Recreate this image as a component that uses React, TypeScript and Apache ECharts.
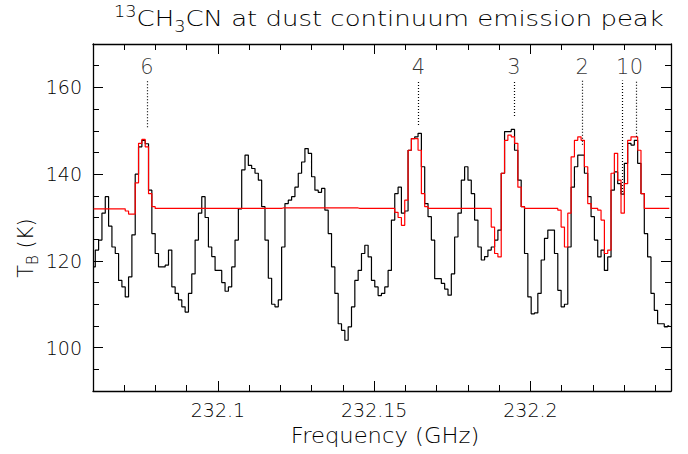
import React, { useEffect, useRef } from "react";
import * as echarts from "echarts";

// Spectrum channel grid (GHz)
const FREQ_START = 232.0602;
const CHANNEL_WIDTH = 0.001065;

// Observed brightness temperature (K), black histogram
const observedTb = [
  118.6, 122.5, 124.8, 131, 134.8, 128, 123.2, 121.7, 115.5, 114,
  111.7, 116.3, 126, 140, 146.3, 147.8, 147, 136.3, 126.3, 121.7,
  118.6, 118.6, 119, 122.5, 114, 112.5, 111, 109.4, 108.2, 112.5,
  117, 124.8, 131, 134.8, 130, 123.2, 121, 117.8, 117.8, 115,
  113, 114, 118.6, 124.8, 132, 141, 144.4, 142, 141.3, 140.2,
  138.6, 132.5, 124.8, 116, 110, 109.4, 111, 123.2, 133.2, 134,
  134.8, 137, 140.2, 142.8, 145.9, 144.8, 139.4, 136.3, 135.8, 136.7,
  131.7, 126.3, 118.6, 112.5, 105.5, 104, 101.7, 104.8, 109.4, 115.5,
  117.8, 121.7, 123.6, 120.9, 115.5, 114, 112, 112.5, 114, 117.8,
  129.4, 135.5, 137, 131, 131.5, 145.5, 148.2, 148.6, 149.4, 141.7,
  133.2, 130.2, 124.8, 115.9, 115.9, 114.8, 113.5, 112.1, 117, 125.5,
  131, 138.6, 141.7, 138.6, 135.5, 129.4, 123.2, 120.2, 121, 122.5,
  123.2, 124.8, 127.1, 140.2, 149.8, 149.8, 150.3, 145.5, 138.6, 132.5,
  121.7, 111.7, 107.8, 108, 112.5, 120.2, 125.2, 127.1, 127.1, 121.7,
  113.2, 109.4, 110, 123.2, 137, 141.7, 144.4, 144.4, 140.2, 134.8,
  130.2, 124.8, 120.9, 122.5, 117.8, 120.9, 136.3, 140.5, 137.8, 135.4,
  142.5, 147.1, 146.7, 147.8, 142.5, 135.5, 126.3, 120.9, 112.5, 108.6,
  105.5, 105.5, 104.8, 105,
];

// Model brightness temperature (K), red histogram
const modelTb = [
  132, 132, 132, 132, 132, 132, 132, 132, 132, 132,
  131.5, 130.8, 130.8, 138, 147.1, 148, 146.3, 135.5, 132.5, 132.1,
  132.1, 132.1, 132.1, 132.1, 132.1, 132.1, 132.1, 132.1, 132.1, 132.1,
  132.1, 132.1, 132.1, 132.1, 132.1, 132.1, 132.1, 132.1, 132.1, 132.1,
  132.1, 132.1, 132.1, 132.1, 132.1, 132.1, 132.1, 132.1, 132.1, 132.1,
  132.1, 132.1, 132.1, 132.1, 132.1, 132.1, 132.1, 132.2, 132.2, 132.2,
  132.2, 132.2, 132.2, 132.2, 132.2, 132.2, 132.2, 132.2, 132.2, 132.2,
  132.2, 132.2, 132.2, 132.2, 132.2, 132.2, 132.2, 132.2, 132.2, 132.2,
  132.1, 132.1, 132.1, 132.1, 132.1, 132.1, 132.1, 132.1, 132.1, 132.1,
  132.1, 131.2, 130, 128.2, 134, 145.5, 148.2, 148.2, 145.5, 135.5,
  132.5, 132.1, 132.1, 132.1, 132.1, 132.1, 132.1, 132.1, 132.1, 132.1,
  132.1, 132.1, 132.1, 132.1, 132.1, 132.1, 132.1, 132.1, 132.1, 132.1,
  127.8, 121.7, 120.9, 140.2, 147.8, 149, 148.6, 147.1, 137, 132.5,
  132.1, 132.1, 132.1, 132.1, 132.1, 132.1, 132.1, 132.1, 132.1, 132.1,
  131.7, 127.8, 123.2, 131, 144, 147.8, 148.6, 147.8, 141.7, 133.2,
  132.1, 132.1, 131.7, 129.4, 121.7, 122.5, 140.2, 144.8, 138.6, 131,
  137.8, 147.8, 148.6, 148.6, 145.5, 135.5, 132.1, 132.1, 132.1, 132.1,
  132.1, 132.1, 132.1, 132.1,
];

// K-component line markers
const lineLabels = ["6", "4", "3", "2", "1", "0"];
const lineFreqs = [232.0773, 232.1642, 232.1947, 232.2166, 232.2295, 232.2339];
const lineMarkerBottom = [150.8, 151.3, 153.4, 146.8, 135.9, 148.6];
const LINE_MARKER_TOP = 161.6;
const LINE_LABEL_Y = 164.8;

// Axes
const X_MIN = 232.06;
const X_MAX = 232.245;
const Y_MIN = 90;
const Y_MAX = 170;
const xMajorTicks = [232.1, 232.15, 232.2];
const xMinorTicks = [232.07, 232.08, 232.09, 232.1, 232.11, 232.12, 232.13, 232.14, 232.15, 232.16, 232.17, 232.18, 232.19, 232.2, 232.21, 232.22, 232.23, 232.24];
const yMajorTicks = [100, 120, 140, 160];
const yMinorTicks = [95, 100, 105, 110, 115, 120, 125, 130, 135, 140, 145, 150, 155, 160, 165];

const FONT = "'DejaVu Sans', sans-serif";
const WEIGHT = 200;

export default function App() {
  const ref = useRef<HTMLDivElement>(null);
  useEffect(() => {
    if (!ref.current) return;
    const chart = echarts.init(ref.current, null, { renderer: "svg" });
    const obsData = observedTb.map((v, i) => [FREQ_START + i * CHANNEL_WIDTH, v]);
    const modData = modelTb.map((v, i) => [FREQ_START + i * CHANNEL_WIDTH, v]);
    const lineStyle = { color: "#000", width: 1.3 };
    const mkX = (position: string, ticks: number[], len: number, labels: boolean, line: boolean) => ({
      type: "value",
      min: X_MIN,
      max: X_MAX,
      position,
      axisLine: { show: line, onZero: false, lineStyle },
      axisTick: { show: true, inside: true, length: len, customValues: ticks, lineStyle: { color: "#000", width: 1 } },
      axisLabel: labels
        ? { show: true, customValues: xMajorTicks, color: "#000", fontSize: 19, fontFamily: FONT, fontWeight: WEIGHT, margin: 9 }
        : { show: false },
      splitLine: { show: false },
    });
    const mkY = (position: string, ticks: number[], len: number, labels: boolean, line: boolean) => ({
      type: "value",
      min: Y_MIN,
      max: Y_MAX,
      position,
      axisLine: { show: line, onZero: false, lineStyle },
      axisTick: { show: true, inside: true, length: len, customValues: ticks, lineStyle: { color: "#000", width: 1 } },
      axisLabel: labels
        ? { show: true, customValues: yMajorTicks, color: "#000", fontSize: 19, fontFamily: FONT, fontWeight: WEIGHT, margin: 11 }
        : { show: false },
      splitLine: { show: false },
    });
    chart.setOption({
      animation: false,
      backgroundColor: "#fff",
      grid: { left: 93, right: 17, top: 44, bottom: 63, containLabel: false },
      xAxis: [
        mkX("bottom", xMinorTicks, 6, true, true),
        mkX("bottom", xMajorTicks, 10, false, false),
        mkX("top", xMinorTicks, 6, false, true),
        mkX("top", xMajorTicks, 10, false, false),
      ],
      yAxis: [
        mkY("left", yMinorTicks, 6, true, true),
        mkY("left", yMajorTicks, 10, false, false),
        mkY("right", yMinorTicks, 6, false, true),
        mkY("right", yMajorTicks, 10, false, false),
      ],
      graphic: [
        {
          type: "text",
          x: 114,
          y: 19,
          scaleX: 1.18,
          style: {
            text: "{sup|13}{m|CH}{sub|3}{m|CN at dust continuum emission peak}",
            align: "left",
            verticalAlign: "middle",
            fill: "#000",
            rich: {
              m: { fontSize: 22, fontFamily: FONT, fontWeight: WEIGHT, lineHeight: 30, fill: "#000" },
              sup: { fontSize: 15, fontFamily: FONT, fontWeight: WEIGHT, lineHeight: 15, verticalAlign: "top", fill: "#000" },
              sub: { fontSize: 15, fontFamily: FONT, fontWeight: WEIGHT, lineHeight: 15, verticalAlign: "bottom", fill: "#000" },
            },
          },
        },
        {
          type: "text",
          x: 385,
          y: 436,
          scaleX: 1.08,
          style: {
            text: "Frequency (GHz)",
            align: "center",
            verticalAlign: "middle",
            fill: "#000",
            fontSize: 21,
            fontFamily: FONT,
            fontWeight: WEIGHT,
          },
        },
        {
          type: "text",
          x: 26,
          y: 248,
          rotation: Math.PI / 2,
          style: {
            text: "{m|T}{sub|B}{m| (K)}",
            align: "center",
            verticalAlign: "middle",
            fill: "#000",
            rich: {
              m: { fontSize: 21, fontFamily: FONT, fontWeight: WEIGHT, lineHeight: 28, fill: "#000" },
              sub: { fontSize: 15, fontFamily: FONT, fontWeight: WEIGHT, lineHeight: 15, verticalAlign: "bottom", fill: "#000" },
            },
          },
        },
      ],
      series: [
        {
          type: "line",
          name: "observed",
          data: obsData,
          step: "middle",
          symbol: "none",
          lineStyle: { color: "#000", width: 1.2 },
          z: 2,
          markLine: {
            silent: true,
            symbol: ["none", "none"],
            label: { show: false },
            lineStyle: { color: "#000", type: [1, 2], width: 1.2 },
            data: lineFreqs.map((f, i) => [
              { coord: [f, lineMarkerBottom[i]] },
              { coord: [f, LINE_MARKER_TOP] },
            ]),
          },
        },
        {
          type: "line",
          name: "model",
          data: modData,
          step: "middle",
          symbol: "none",
          lineStyle: { color: "#ff0000", width: 1.2 },
          z: 3,
        },
        {
          type: "scatter",
          name: "labels",
          symbolSize: 0,
          silent: true,
          data: lineFreqs.map((f, i) => ({ value: [f, LINE_LABEL_Y], name: lineLabels[i] })),
          label: {
            show: true,
            position: "inside",
            formatter: (p: any) => p.name,
            color: "#000",
            fontSize: 21,
            fontFamily: FONT,
            fontWeight: WEIGHT,
          },
        },
      ],
    });
    return () => chart.dispose();
  }, []);
  return (
    <div
      ref={ref}
      style={{ position: "absolute", left: 0, top: 0, width: 688, height: 454, background: "#fff" }}
    />
  );
}
